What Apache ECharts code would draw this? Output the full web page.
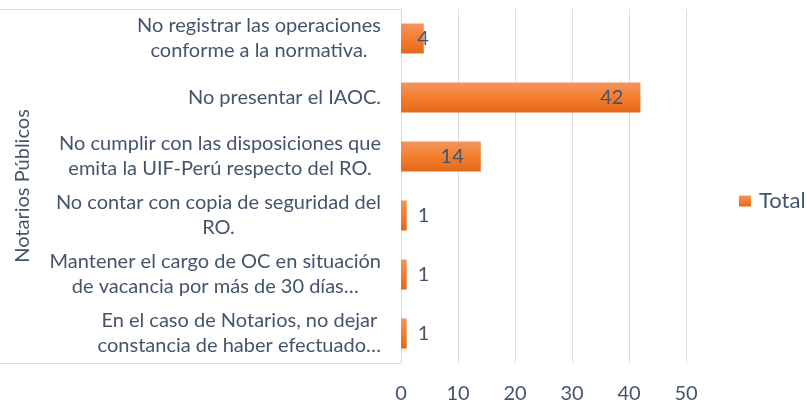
<!DOCTYPE html>
<html>
<head>
<meta charset="utf-8">
<script src="https://cdn.jsdelivr.net/npm/echarts@6/dist/echarts.min.js"></script>
<style>
    html, body { margin: 0; padding: 0; background: #fff; }
    #chart { width: 807px; height: 404px; }
</style>
</head>
<body>
<div id="chart"></div>
<script>
// categorias, de arriba hacia abajo
const categories = [
    'No registrar las operaciones\nconforme a la normativa.',
    'No presentar el IAOC.',
    'No cumplir con las disposiciones que\nemita la UIF-Perú respecto del RO.',
    'No contar con copia de seguridad del\nRO.',
    'Mantener el cargo de OC en situación\nde vacancia por más de 30 días…',
    'En el caso de Notarios, no dejar\nconstancia de haber efectuado…',
];
const totals = [4, 42, 14, 1, 1, 1];
const groupName = 'Notarios Públicos';
const seriesName = 'Total';
const xTicks = [0, 10, 20, 30, 40, 50];

const textColor = '#44546A';
const fontFamily = 'Lato, "Noto Sans", sans-serif';
const fontSize = 20;

const myChart = echarts.init(document.getElementById('chart'));

const barColor = new echarts.graphic.LinearGradient(0, 0, 0, 1, [
    { offset: 0, color: '#F3955F' },
    { offset: 0.5, color: '#F47E2E' },
    { offset: 1, color: '#E4691A' },
]);

// etiquetas: dentro del extremo si cabe, si no a la derecha
const barData = totals.map(function (v) {
    let label;
    if (v >= 10) {
        label = { position: 'insideRight', distance: 17 };
    } else if (v >= 3) {
        label = { position: 'insideRight', distance: -5 };
    } else {
        label = { position: 'right', distance: 11 };
    }
    return { value: v, label: label };
});

const option = {
    animation: false,
    textStyle: { fontFamily: fontFamily },
    grid: { left: 401, right: 121, top: 9, bottom: 41, containLabel: false },
    legend: {
        data: [seriesName],
        left: 739,
        top: 190,
        padding: 0,
        itemWidth: 12,
        itemHeight: 11,
        icon: 'rect',
        textStyle: { color: textColor, fontSize: 22, fontFamily: fontFamily, padding: [0, 0, 0, 3] },
    },
    xAxis: {
        type: 'value',
        min: xTicks[0],
        max: xTicks[xTicks.length - 1],
        interval: 10,
        axisLine: { show: false },
        axisTick: { show: false },
        splitLine: { lineStyle: { color: '#D9DDE3', width: 1 } },
        axisLabel: { color: textColor, fontSize: fontSize, margin: 21, fontFamily: fontFamily },
    },
    yAxis: {
        type: 'category',
        data: categories,
        inverse: true,
        name: groupName,
        nameLocation: 'middle',
        nameRotate: 90,
        nameGap: 368,
        nameTextStyle: { color: textColor, fontSize: 20, fontFamily: fontFamily },
        axisLine: { show: true, lineStyle: { color: '#D9D9D9' } },
        // solo las lineas del grupo (arriba y abajo)
        axisTick: {
            show: true,
            length: 412,
            interval: function (index) {
                return index === 0;
            },
            lineStyle: { color: '#D9DDE3', width: 1 },
        },
        axisLabel: {
            margin: 20,
            color: textColor,
            fontSize: fontSize,
            fontFamily: fontFamily,
            lineHeight: 25,
            formatter: function (value) {
                return value.split('\n').map(function (l) {
                    return '{c|' + l + '}';
                }).join('\n');
            },
            rich: {
                c: {
                    align: 'center',
                    color: textColor,
                    fontSize: fontSize,
                    fontFamily: fontFamily,
                    lineHeight: 25,
                },
            },
        },
    },
    series: [
        {
            name: seriesName,
            type: 'bar',
            data: barData,
            barWidth: 30,
            itemStyle: { color: barColor },
            label: {
                show: true,
                color: textColor,
                fontSize: fontSize,
                fontFamily: fontFamily,
            },
        },
    ],
};

myChart.setOption(option);
</script>
</body>
</html>
